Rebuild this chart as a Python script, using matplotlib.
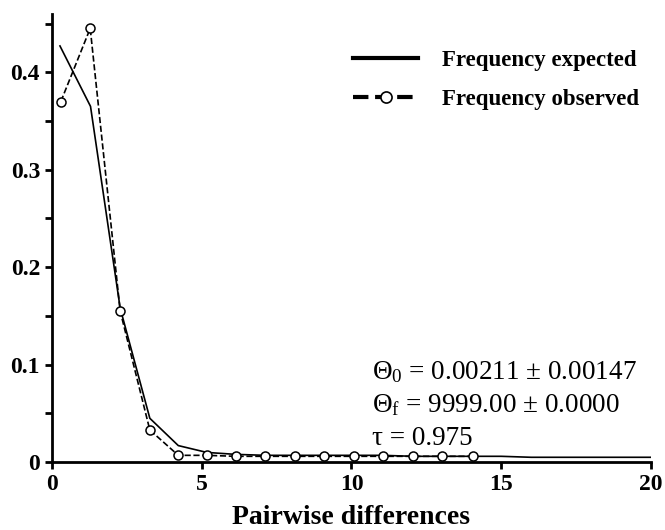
import matplotlib
matplotlib.use("Agg")
import matplotlib.pyplot as plt
from matplotlib.lines import Line2D
from matplotlib.ticker import MultipleLocator

plt.rcParams['font.family'] = ['Liberation Serif', 'DejaVu Serif']
plt.rcParams['mathtext.fontset'] = 'custom'
plt.rcParams['mathtext.rm'] = 'Liberation Serif'

# Данные
obs_x = [0.3, 1.28, 2.28, 3.27, 4.22, 5.17, 6.13, 7.13, 8.13, 9.1, 10.07, 11.05, 12.05, 13.02, 14.05]
obs_y = [0.37, 0.445, 0.155, 0.033, 0.007, 0.007, 0.006, 0.006, 0.006, 0.006, 0.006, 0.006, 0.006, 0.006, 0.006]

exp_x = [0.27, 1.29, 2.28, 3.27, 4.22, 5.17, 6.13, 7.13, 8.13, 9.1, 10.07, 11.05, 12.05, 13.02,
         14.05, 15, 16, 17, 18, 19, 20]
exp_y = [0.427, 0.365, 0.158, 0.045, 0.017, 0.010, 0.008, 0.007, 0.007, 0.007, 0.007, 0.007,
         0.006, 0.006, 0.006, 0.006, 0.005, 0.005, 0.005, 0.005, 0.005]

stats = [r'$\mathregular{\Theta_0}$ = 0.00211 ± 0.00147',
         r'$\mathregular{\Theta_f}$ = 9999.00 ± 0.0000',
         'τ = 0.975']

fig = plt.figure(figsize=(6.65, 5.3), dpi=100)
ax = fig.add_axes([0.078, 0.128, 0.901, 0.846])

ax.plot(exp_x, exp_y, '-', color='black', linewidth=1.2, zorder=2)
ax.plot(obs_x, obs_y, '--', color='black', linewidth=1.2, marker='o', markersize=6.5,
        markerfacecolor='white', markeredgecolor='black', markeredgewidth=1.1, zorder=3)

ax.set_xlim(0, 20)
ax.set_ylim(0, 0.46)
ax.spines['top'].set_visible(False)
ax.spines['right'].set_visible(False)
ax.spines['left'].set_linewidth(2)
ax.spines['bottom'].set_linewidth(2)

ax.xaxis.set_major_locator(MultipleLocator(5))
ax.yaxis.set_minor_locator(MultipleLocator(0.05))
ax.tick_params(axis='both', which='both', direction='out', width=2, labelsize=17)
ax.tick_params(axis='both', which='major', length=5)
ax.tick_params(axis='y', which='minor', length=5)
ax.set_yticks([0, 0.1, 0.2, 0.3, 0.4])
ax.set_yticklabels(['0', '0.1', '0.2', '0.3', '0.4'])
for lab in ax.get_xticklabels() + ax.get_yticklabels():
    lab.set_fontweight('bold')

ax.set_xlabel('Pairwise differences', fontsize=20, fontweight='bold', labelpad=7)

handles = [Line2D([], [], color='black', linewidth=3),
           Line2D([], [], color='black', linestyle='--', linewidth=3, marker='o', markersize=8,
                  markerfacecolor='white', markeredgecolor='black', markeredgewidth=1.2)]
ax.legend(handles, ['Frequency expected', 'Frequency observed'], loc='upper left',
          bbox_to_anchor=(0.5025, 0.92), frameon=False, borderaxespad=0, borderpad=0,
          handlelength=2.85, handletextpad=1.05, labelspacing=0.8,
          prop={'family': 'Liberation Serif', 'weight': 'bold', 'size': 16.5})

for i, s in enumerate(stats):
    ax.text(0.535, 0.2 - i * 0.0737, s, transform=ax.transAxes, fontsize=19.5,
            va='center', ha='left')

fig.savefig('out.png', dpi=100)
